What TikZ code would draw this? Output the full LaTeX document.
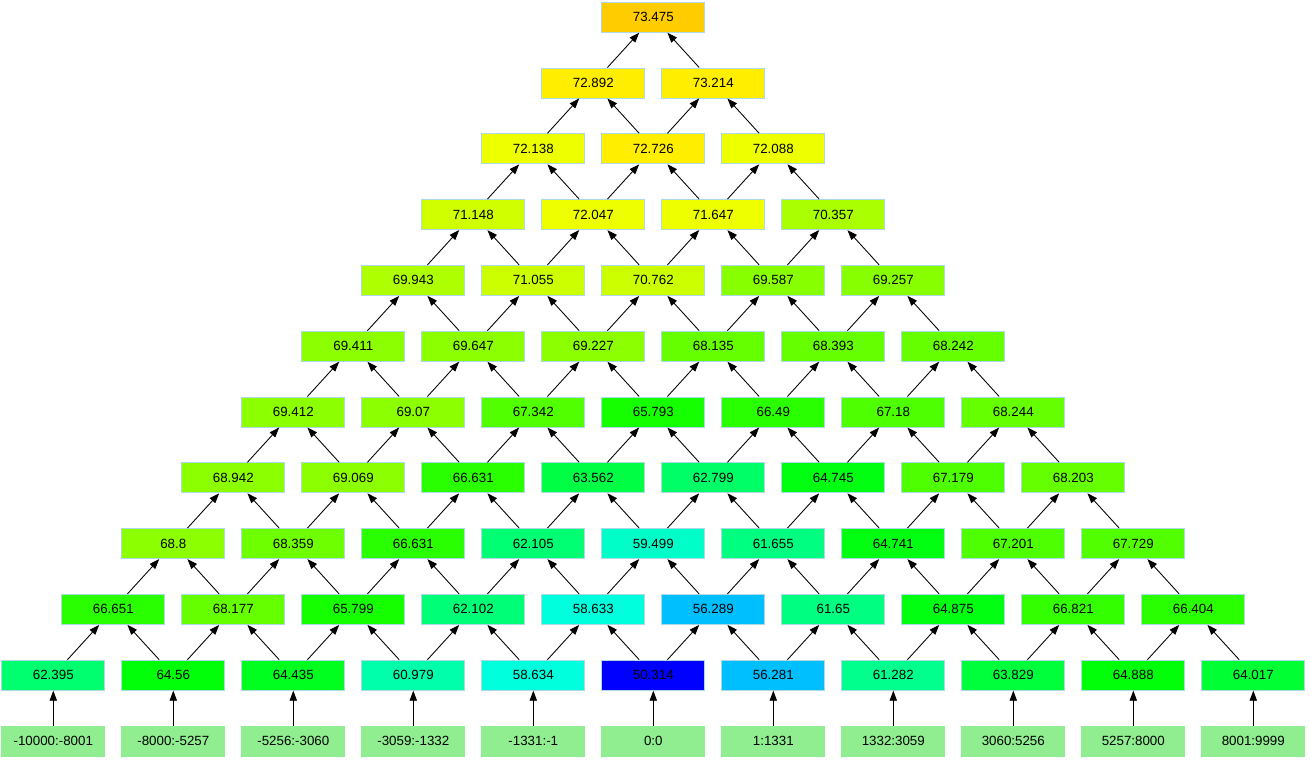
\documentclass[tikz,border=0pt]{standalone}
\usepackage{fontspec}
\setmainfont{Liberation Sans}
\usepackage{xcolor}
\usetikzlibrary{arrows.meta}

\definecolor{edgeblue}{RGB}{173,216,230}
\definecolor{rangegreen}{RGB}{144,238,144}

\begin{document}
\begin{tikzpicture}[x=0.75pt, y=-0.75pt, >={Triangle[length=7.5pt, width=5.5pt]},
  val/.style={draw=edgeblue, line width=0.75pt, minimum width=77pt,
    minimum height=22.5pt, inner sep=0pt, font=\fontsize{10}{12}\selectfont},
  rng/.style={val, draw=rangegreen, fill=rangegreen},
  arr/.style={->, line width=0.65pt}]
  \useasboundingbox (0,0) rectangle (1310,760);
  % range labels
  \foreach \lab [count=\i from 0] in {-10000:-8001,-8000:-5257,-5256:-3060,
      -3059:-1332,-1331:-1,0:0,1:1331,1332:3059,3060:5256,5257:8000,8001:9999}
    \node[rng] (lab\i) at ({53.3+120*\i}, 741) {\lab};
  % value rows: value/hue
  \foreach \row/\vals in {
      1/{62.395/146,64.56/122,64.435/127,60.979/160,58.634/172,50.314/240,
         56.281/195,61.282/153,63.829/134,64.888/122,64.017/132},
      2/{66.651/110,68.177/96,65.799/115,62.102/148,58.633/172,56.289/195,
         61.65/150,64.875/124,66.821/108,66.404/110},
      3/{68.8/87,68.359/94,66.631/110,62.105/147,59.499/167,61.655/150,
         64.741/124,67.201/102,67.729/101},
      4/{68.942/87,69.069/87,66.631/110,63.562/136,62.799/144,64.745/124,
         67.179/102,68.203/96},
      5/{69.412/87,69.07/87,67.342/101,65.793/115,66.49/110,67.18/102,68.244/96},
      6/{69.411/87,69.647/87,69.227/87,68.135/96,68.393/96,68.242/96},
      7/{69.943/79,71.055/72,70.762/72,69.587/88,69.257/88},
      8/{71.148/71,72.047/64,71.647/64,70.357/80},
      9/{72.138/64,72.726/56,72.088/64},
      10/{72.892/56,73.214/56},
      11/{73.475/48}} {
    \foreach \v/\h [count=\i from 0] in \vals {
      \definecolor{huecol}{Hsb}{\h,1,1}
      \colorlet{cellfill}[rgb]{huecol}
      \node[val, fill=cellfill] (n\row-\i) at ({53.3+60*(\row-1)+120*\i}, {741-65.8*\row}) {\v};
    }
  }
  % connectors
  \foreach \i in {0,...,10}
    \draw[arr] (lab\i) -- (n1-\i);
  \foreach \row in {1,...,10} {
    \pgfmathtruncatemacro\up{\row+1}
    \pgfmathtruncatemacro\last{11-\row}
    \foreach \i in {0,...,\last} {
      \pgfmathtruncatemacro\prev{\i-1}
      \ifnum\i>0 \draw[arr] (n\row-\i) -- (n\up-\prev); \fi
      \ifnum\i<\last \draw[arr] (n\row-\i) -- (n\up-\i); \fi
    }
  }
\end{tikzpicture}
\end{document}
